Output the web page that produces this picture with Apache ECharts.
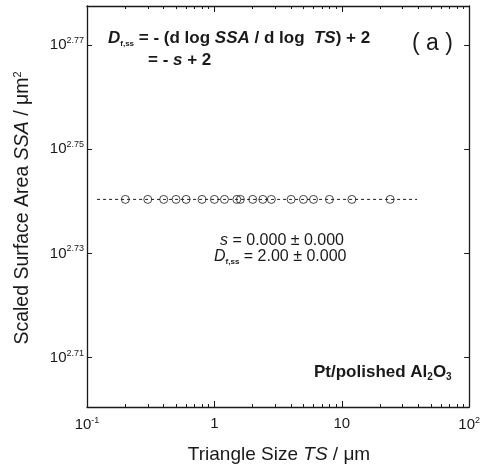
<!DOCTYPE html>
<html>
<head>
<meta charset="utf-8">
<script src="https://cdn.jsdelivr.net/npm/echarts@6/dist/echarts.min.js"></script>
<style>
  html, body { margin: 0; padding: 0; background: #fff; }
  #chart { width: 483px; height: 474px; }
</style>
</head>
<body>
<div id="chart"></div>
<script>
// triangle size (um) and scaled surface area (um^2)
var tsValues = [0.2, 0.3, 0.4, 0.5, 0.6, 0.8, 1.0, 1.2, 1.5, 1.6, 2.0, 2.4, 2.8, 4, 5, 6, 8, 12, 24];
var ssaValues = [550, 550, 550, 550, 550, 550, 550, 550, 550, 550, 550, 550, 550, 550, 550, 550, 550, 550, 550];
// fitted line (slope 0)
var fitTS = [0.12, 39];
var fitSSA = [550, 550];
// tick values
var xMajorTicks = [0.1, 1, 10, 100];
var xMinorTicks = [0.2, 0.3, 0.4, 0.5, 0.6, 0.7, 0.8, 0.9, 2, 3, 4, 5, 6, 7, 8, 9, 20, 30, 40, 50, 60, 70, 80, 90];
var yLogTicks = [2.71, 2.73, 2.75, 2.77];

var ink = '#1a1a1a';
var font = '"Liberation Sans", Arial, sans-serif';

var myChart = echarts.init(document.getElementById('chart'));

var supRich = {
  n: { fontSize: 15, fontFamily: font, color: ink },
  sup: { fontSize: 9, fontFamily: font, color: ink, padding: [0, 0, 9, 0] }
};

function xAx(pos, ticks, len, showLine, showLabel) {
  return {
    type: 'log', logBase: 10, min: 0.1, max: 100, position: pos,
    axisLine: { show: showLine, onZero: false, lineStyle: { color: ink, width: 1.3 } },
    axisTick: { show: true, inside: true, length: len, customValues: ticks, lineStyle: { color: ink, width: 1 } },
    axisLabel: showLabel ? {
      customValues: xMajorTicks, margin: 9, rich: supRich,
      formatter: function (v) {
        var e = Math.round(Math.log10(v));
        if (e === 0) return '{n|1}';
        if (e === 1) return '{n|10}';
        return '{n|10}{sup|' + e + '}';
      }
    } : { show: false },
    splitLine: { show: false }
  };
}

function yAx(pos, showLabel) {
  return {
    type: 'value', min: 2.7005, max: 2.7775, position: pos,
    axisLine: { show: true, onZero: false, lineStyle: { color: ink, width: 1.3 } },
    axisTick: { show: true, inside: true, length: 5, customValues: yLogTicks, lineStyle: { color: ink } },
    axisLabel: showLabel ? {
      customValues: yLogTicks, margin: 3, rich: supRich,
      formatter: function (v) { return '{n|10}{sup|' + v.toFixed(2) + '}'; }
    } : { show: false },
    splitLine: { show: false }
  };
}

var option = {
  animation: false,
  backgroundColor: '#fff',
  grid: { left: 87, right: 13, top: 6, bottom: 67 },
  xAxis: [
    xAx('bottom', xMajorTicks, 6, true, true),
    xAx('bottom', xMinorTicks, 3, false, false),
    xAx('top', xMajorTicks, 6, true, false),
    xAx('top', xMinorTicks, 3, false, false)
  ],
  yAxis: [yAx('left', true), yAx('right', false)],
  series: [
    {
      type: 'line',
      data: fitTS.map(function (t, i) { return [t, Math.log10(fitSSA[i])]; }),
      symbol: 'none',
      lineStyle: { color: ink, width: 1, type: [3, 3] }
    },
    {
      type: 'scatter',
      data: tsValues.map(function (t, i) { return [t, Math.log10(ssaValues[i])]; }),
      symbol: 'circle',
      symbolSize: 8,
      itemStyle: { color: 'rgba(0,0,0,0)', borderColor: ink, borderWidth: 1 }
    }
  ],
  graphic: [
    {
      type: 'text', left: 108, top: 30,
      style: {
        text: '{it|D}{sub|f,ss}{n| = - (d log }{it|SSA}{n| / d log  }{it|TS}{n|) + 2}',
        rich: {
          n: { fontSize: 17, fontFamily: font, fontWeight: 'bold', fill: ink },
          it: { fontSize: 17, fontFamily: font, fontWeight: 'bold', fontStyle: 'italic', fill: ink },
          sub: { fontSize: 8, fontFamily: font, fontWeight: 'bold', fill: ink, padding: [10, 0, 0, 0] }
        }
      }
    },
    {
      type: 'text', left: 148, top: 52,
      style: {
        text: '{n|= - }{it|s}{n| + 2}',
        rich: {
          n: { fontSize: 17, fontFamily: font, fontWeight: 'bold', fill: ink },
          it: { fontSize: 17, fontFamily: font, fontWeight: 'bold', fontStyle: 'italic', fill: ink }
        }
      }
    },
    {
      type: 'text', left: 412, top: 32,
      style: { text: '( a )', fontSize: 23, fontFamily: font, fill: ink }
    },
    {
      type: 'text', left: 220, top: 233,
      style: {
        text: '{it|s}{n| = 0.000 ± 0.000}',
        rich: {
          n: { fontSize: 16, fontFamily: font, fill: ink },
          it: { fontSize: 16, fontFamily: font, fontStyle: 'italic', fill: ink }
        }
      }
    },
    {
      type: 'text', left: 214, top: 249,
      style: {
        text: '{it|D}{sub|f,ss}{n| = 2.00 ± 0.000}',
        rich: {
          n: { fontSize: 16, fontFamily: font, fill: ink },
          it: { fontSize: 16, fontFamily: font, fontStyle: 'italic', fill: ink },
          sub: { fontSize: 8, fontFamily: font, fontWeight: 'bold', fill: ink, padding: [9, 0, 0, 0] }
        }
      }
    },
    {
      type: 'text', left: 314, top: 364,
      style: {
        text: '{b|Pt/polished Al}{s|2}{b|O}{s|3}',
        rich: {
          b: { fontSize: 17, fontFamily: font, fontWeight: 'bold', fill: ink },
          s: { fontSize: 10, fontFamily: font, fontWeight: 'bold', fill: ink, padding: [10, 0, 0, 0] }
        }
      }
    },
    {
      type: 'text', x: 279, y: 455,
      style: {
        text: '{n|Triangle Size }{it|TS}{n| / μm}',
        align: 'center', verticalAlign: 'middle',
        rich: {
          n: { fontSize: 19, fontFamily: font, fill: ink },
          it: { fontSize: 19, fontFamily: font, fontStyle: 'italic', fill: ink }
        }
      }
    },
    {
      type: 'text', x: 23, y: 208, rotation: Math.PI / 2,
      style: {
        text: '{n|Scaled Surface Area }{it|SSA}{n| / μm}{sup|2}',
        align: 'center', verticalAlign: 'middle',
        rich: {
          n: { fontSize: 19.5, fontFamily: font, fill: ink },
          it: { fontSize: 19.5, fontFamily: font, fontStyle: 'italic', fill: ink },
          sup: { fontSize: 11, fontFamily: font, fill: ink, padding: [0, 0, 11, 0] }
        }
      }
    }
  ]
};

myChart.setOption(option);
</script>
</body>
</html>
